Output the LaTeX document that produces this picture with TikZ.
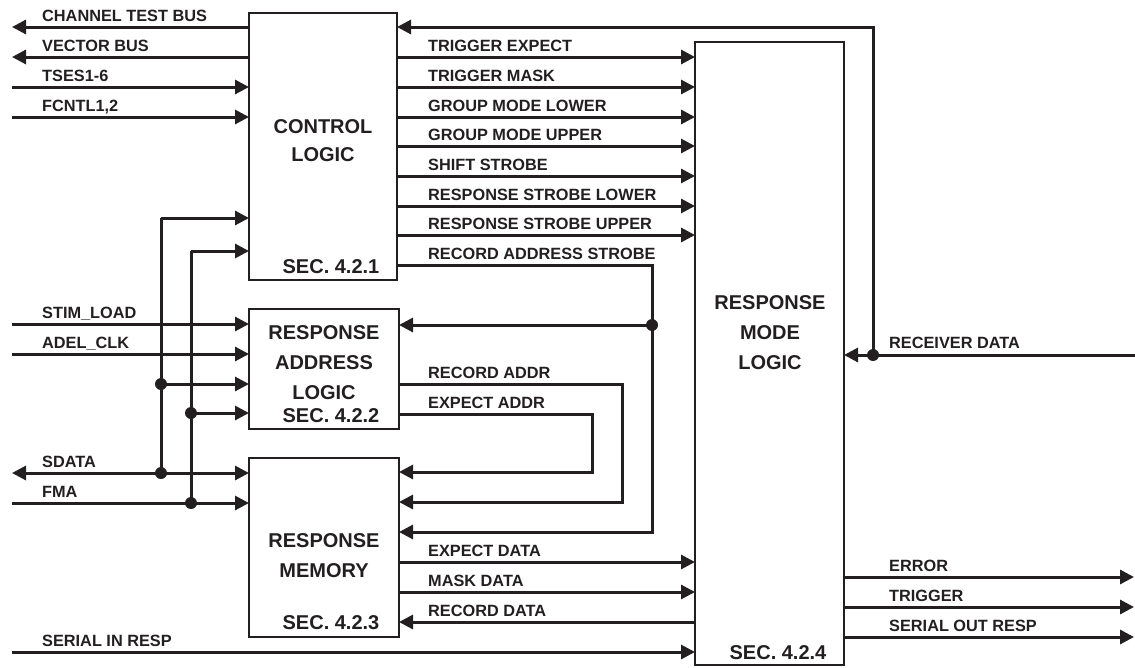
\documentclass[tikz,border=0pt]{standalone}
\usepackage{fontspec}
\setmainfont{Liberation Sans}
\usetikzlibrary{arrows.meta}
\definecolor{ink}{HTML}{231F20}
\begin{document}
\begin{tikzpicture}[x=1pt,y=-1pt,
  box/.style={draw=ink, line width=2.6pt, rectangle, inner sep=0pt, outer sep=0pt},
  wire/.style={draw=ink, line width=3pt, line join=miter},
  arr/.style={wire, -{Triangle[length=14pt,width=14pt]}},
  darr/.style={wire, {Triangle[length=14pt,width=14pt]}-{Triangle[length=14pt,width=14pt]}},
  lbl/.style={anchor=base west, inner sep=0pt, text=ink, font=\fontsize{16.3}{19}\selectfont\bfseries},
  ttl/.style={align=center, inner sep=0pt, text=ink, font=\fontsize{20}{30}\selectfont\bfseries},
  sec/.style={inner sep=0pt, text=ink, font=\fontsize{20}{24}\selectfont\bfseries},
  dot/.style={fill=ink}
]
\useasboundingbox (0,0) rectangle (1135,667);

% blocks
\node[box, minimum width=148pt, minimum height=267pt] (ctrl) at (323,146.5) {};
\node[box, minimum width=150pt, minimum height=120pt] (addr) at (324,369) {};
\node[box, minimum width=150pt, minimum height=179pt] (mem) at (324,547.5) {};
\node[box, minimum width=149pt, minimum height=623pt] (mode) at (769.5,353.5) {};

% block titles
\node[ttl, font=\fontsize{20}{28}\selectfont\bfseries] (tctrl) at (323,141) {CONTROL\\LOGIC};
\node[sec] (sctrl) at (331,267) {SEC. 4.2.1};
\node[ttl] (taddr) at (324,363) {RESPONSE\\ADDRESS\\LOGIC};
\node[sec] (saddr) at (331,416) {SEC. 4.2.2};
\node[ttl] (tmem) at (324,555.5) {RESPONSE\\MEMORY};
\node[sec] (smem) at (331,623) {SEC. 4.2.3};
\node[ttl] (tmode) at (770,333) {RESPONSE\\MODE\\LOGIC};
\node[sec] (smode) at (778,653) {SEC. 4.2.4};

% free ends
\coordinate (ctb) at (12,27);
\coordinate (vb) at (12,57);
\coordinate (tses) at (12,87);
\coordinate (fcntl) at (12,117);
\coordinate (stim) at (12,324);
\coordinate (adel) at (12,354);
\coordinate (sdata) at (12,473);
\coordinate (fma) at (12,503);
\coordinate (sir) at (12,652);
\coordinate (rcv) at (1135,355);
\coordinate (err) at (1134,577);
\coordinate (trg) at (1134,607);
\coordinate (sor) at (1134,637);

% left side of control logic
\draw[arr] (ctrl.west|-ctb) -- (ctb);
\draw[arr] (ctrl.west|-vb) -- (vb);
\draw[arr] (tses) -- (ctrl.west|-tses);
\draw[arr] (fcntl) -- (ctrl.west|-fcntl);
\node[lbl] (lctb) at (42,21) {CHANNEL TEST BUS};
\node[lbl] (lvb) at (42,51) {VECTOR BUS};
\node[lbl] (ltses) at (42,81) {TSES1-6};
\node[lbl] (lfcntl) at (42,111) {FCNTL1,2};

% vertical buses
\coordinate (v1t) at (161,218);
\coordinate (v1a) at (161,384);
\coordinate (v1s) at (161,473);
\coordinate (v2t) at (191,251);
\coordinate (v2a) at (191,413);
\coordinate (v2f) at (191,503);
\draw[wire] (v1t) -- (v1s);
\draw[wire] (v2t) -- (v2f);
\draw[arr] (v1t) -- (ctrl.west|-v1t);
\draw[arr] (v2t) -- (ctrl.west|-v2t);
\draw[arr] (v1a) -- (addr.west|-v1a);
\draw[arr] (v2a) -- (addr.west|-v2a);

% address logic inputs
\draw[arr] (stim) -- (addr.west|-stim);
\draw[arr] (adel) -- (addr.west|-adel);
\node[lbl] (lstim) at (42,318) {STIM\_LOAD};
\node[lbl] (ladel) at (42,348) {ADEL\_CLK};

% memory inputs
\draw[darr] (sdata) -- (mem.west|-sdata);
\draw[arr] (fma) -- (mem.west|-fma);
\node[lbl] (lsdata) at (42,467) {SDATA};
\node[lbl] (lfma) at (42,497) {FMA};
\fill[dot] (v1a) circle[radius=6pt];
\fill[dot] (v1s) circle[radius=6pt];
\fill[dot] (v2a) circle[radius=6pt];
\fill[dot] (v2f) circle[radius=6pt];

% control logic -> response mode logic
\foreach \yy/\tt [count=\i] in {57/TRIGGER EXPECT, 87/TRIGGER MASK, 117/GROUP MODE LOWER, 146/GROUP MODE UPPER, 176/SHIFT STROBE, 206/RESPONSE STROBE LOWER, 235/RESPONSE STROBE UPPER}{
  \coordinate (c\i) at (0,\yy);
  \draw[arr] (ctrl.east|-c\i) -- (mode.west|-c\i);
  \node[lbl] (lc\i) at (428,\yy-6) {\tt};
}

% record address strobe
\coordinate (rasA) at (652,265);
\coordinate (rasB) at (652,325);
\coordinate (rasC) at (652,532);
\draw[arr] (ctrl.east|-rasA) -- (rasA) -- (rasC) -- (mem.east|-rasC);
\draw[arr] (rasB) -- (addr.east|-rasB);
\fill[dot] (rasB) circle[radius=6pt];
\node[lbl] (lras) at (428,259) {RECORD ADDRESS STROBE};

% record addr
\coordinate (raA) at (622,384);
\coordinate (raB) at (622,502);
\draw[arr] (addr.east|-raA) -- (raA) -- (raB) -- (mem.east|-raB);
\node[lbl] (lra) at (428,378) {RECORD ADDR};

% expect addr
\coordinate (eaA) at (592,414);
\coordinate (eaB) at (592,472);
\draw[arr] (addr.east|-eaA) -- (eaA) -- (eaB) -- (mem.east|-eaB);
\node[lbl] (lea) at (428,408) {EXPECT ADDR};

% memory <-> response mode logic
\coordinate (ed) at (0,562);
\coordinate (md) at (0,592);
\coordinate (rd) at (0,622);
\draw[arr] (mem.east|-ed) -- (mode.west|-ed);
\draw[arr] (mem.east|-md) -- (mode.west|-md);
\draw[arr] (mode.west|-rd) -- (mem.east|-rd);
\node[lbl] (led) at (428,556) {EXPECT DATA};
\node[lbl] (lmd) at (428,586) {MASK DATA};
\node[lbl] (lrd) at (428,616) {RECORD DATA};

% serial in
\draw[arr] (sir) -- (mode.west|-sir);
\node[lbl] (lsir) at (42,646) {SERIAL IN RESP};

% receiver data and feedback
\coordinate (fbA) at (873,355);
\coordinate (fbB) at (873,27);
\draw[arr] (rcv) -- (mode.east|-rcv);
\draw[arr] (fbA) -- (fbB) -- (ctrl.east|-fbB);
\fill[dot] (fbA) circle[radius=6pt];
\node[lbl] (lrcv) at (889,348) {RECEIVER DATA};

% outputs
\draw[arr] (mode.east|-err) -- (err);
\draw[arr] (mode.east|-trg) -- (trg);
\draw[arr] (mode.east|-sor) -- (sor);
\node[lbl] (lerr) at (889,571) {ERROR};
\node[lbl] (ltrg) at (889,601) {TRIGGER};
\node[lbl] (lsor) at (889,631) {SERIAL OUT RESP};
\end{tikzpicture}
\end{document}
